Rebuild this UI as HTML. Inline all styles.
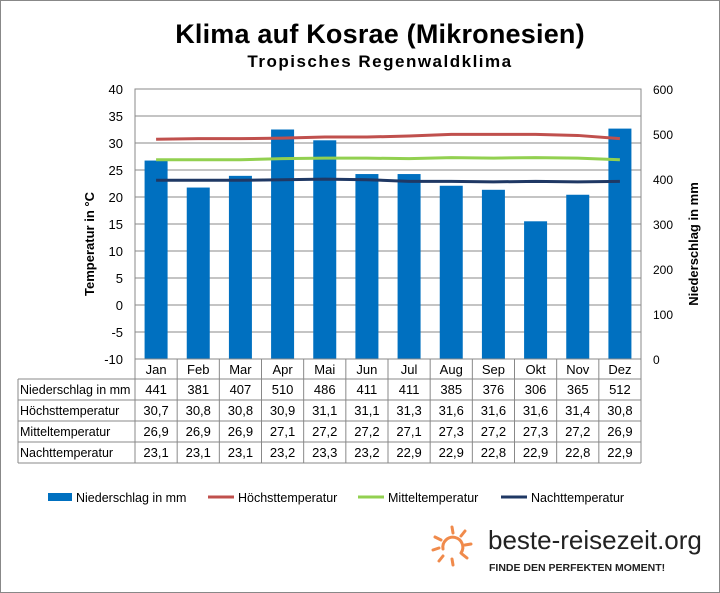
<!DOCTYPE html>
<html><head><meta charset="utf-8"><style>
body{margin:0;background:#fff;font-family:"Liberation Sans",Arial,sans-serif}
#wrap{position:relative;width:718px;height:591px;border:1px solid #888;overflow:hidden}
</style></head><body>
<div id="wrap">
<svg id="chart" width="718" height="591" xmlns="http://www.w3.org/2000/svg" font-family="Liberation Sans, Arial, sans-serif">
<text x="379" y="42" text-anchor="middle" font-size="27" font-weight="bold" letter-spacing="0.2">Klima auf Kosrae (Mikronesien)</text>
<text x="379" y="66" text-anchor="middle" font-size="17" font-weight="bold" letter-spacing="1.5">Tropisches Regenwaldklima</text>
<text transform="translate(93,243) rotate(-90)" text-anchor="middle" font-size="13" font-weight="bold">Temperatur in °C</text>
<text transform="translate(697,243) rotate(-90)" text-anchor="middle" font-size="13" font-weight="bold">Niederschlag in mm</text>
<g id="grid"></g><g id="bars"></g><g id="lines"></g><g id="axes"></g><g id="table"></g><g id="legend"></g>
<g>
<g stroke="#f08a4b" stroke-width="3" stroke-linecap="round" fill="none">
<path d="M442 548 A10 10 0 1 1 460 552"/>
<line x1="451" y1="526" x2="452" y2="532"/><line x1="464" y1="530" x2="460" y2="535"/><line x1="470" y1="543" x2="464" y2="544"/>
<line x1="466" y1="557" x2="461" y2="553"/><line x1="452" y1="564" x2="451" y2="558"/><line x1="438" y1="560" x2="442" y2="555"/>
<line x1="432" y1="549" x2="438" y2="547"/><line x1="434" y1="536" x2="440" y2="539"/>
</g>
<text x="487" y="548" font-size="26" fill="#222">beste-reisezeit.org</text>
<text x="488" y="570" font-size="10.5" font-weight="bold" fill="#222">FINDE DEN PERFEKTEN MOMENT!</text>
</g>
</svg></div>
<script>
const months=["Jan","Feb","Mar","Apr","Mai","Jun","Jul","Aug","Sep","Okt","Nov","Dez"];
const rain=[441,381,407,510,486,411,411,385,376,306,365,512];
const tmax=[30.7,30.8,30.8,30.9,31.1,31.1,31.3,31.6,31.6,31.6,31.4,30.8];
const tmean=[26.9,26.9,26.9,27.1,27.2,27.2,27.1,27.3,27.2,27.3,27.2,26.9];
const tmin=[23.1,23.1,23.1,23.2,23.3,23.2,22.9,22.9,22.8,22.9,22.8,22.9];
const leftTicks=[40,35,30,25,20,15,10,5,0,-5,-10];
const rightTicks=[600,500,400,300,200,100,0];
const NS="http://www.w3.org/2000/svg";
const L=134,R=640,T=88,B=358,cw=(R-L)/12;
const yT=v=>B-(v+10)/50*(B-T);
const yR=v=>B-v/600*(B-T);
const xC=i=>L+cw*(i+0.5);
function mk(p,tag,a){const e=document.createElementNS(NS,tag);for(const k in a)e.setAttribute(k,a[k]);document.getElementById(p).appendChild(e);return e;}
function tx(p,x,y,s,a){const e=mk(p,"text",Object.assign({x:x,y:y,"font-size":13},a||{}));e.textContent=s;return e;}
leftTicks.forEach(v=>{
 const l=mk("grid","line",{x1:L,x2:R,y1:yT(v),y2:yT(v),stroke:"#888","stroke-width":1});
 
 
 const t=tx("axes",122,yT(v)+5,String(v),{"text-anchor":"end"});
 
 
});
rightTicks.forEach(v=>{
 const t=tx("axes",652,yR(v)+5,String(v),{"font-size":12});
 
 
});
const fr=mk("axes","rect",{x:L,y:T,width:R-L,height:B-T,fill:"none",stroke:"#888"});


rain.forEach((v,i)=>{
 const b=mk("bars","rect",{x:xC(i)-11.5,y:yR(v),width:23,height:B-yR(v),fill:"#0070c0"});
 
 
});
[[tmax,"#c0504d"],[tmean,"#92d050"],[tmin,"#1f3864"]].forEach(([d,c],k)=>{
 const pts=d.map((v,i)=>xC(i)+","+yT(v)).join(" ");
 const p=mk("lines","polyline",{points:pts,fill:"none",stroke:c,"stroke-width":3});
 
 
});
const rows=[["Niederschlag in mm",rain.map(String)],["Höchsttemperatur",tmax.map(v=>String(v).replace(".",","))],["Mitteltemperatur",tmean.map(v=>String(v).replace(".",","))],["Nachttemperatur",tmin.map(v=>String(v).replace(".",","))]];
const rh=21,ty=378,tl=17;
months.forEach((m,i)=>{
 const t=tx("table",xC(i),373,m,{"text-anchor":"middle"});
 
 
 const l=mk("table","line",{x1:L+cw*(i+1),x2:L+cw*(i+1),y1:B,y2:ty+4*rh,stroke:"#888"});
 
 
});
const vl=mk("table","line",{x1:L,x2:L,y1:B,y2:ty+4*rh,stroke:"#888"});


const vl2=mk("table","line",{x1:tl,x2:tl,y1:ty,y2:ty+4*rh,stroke:"#888"});


for(let r=0;r<=4;r++){
 const l=mk("table","line",{x1:tl,x2:R,y1:ty+r*rh,y2:ty+r*rh,stroke:"#888"});
 
 
}
rows.forEach(([lab,vals],r)=>{
 const y=ty+r*rh+15;
 const t=tx("table",19,y,lab,{"font-size":12.5});
 
 
 vals.forEach((v,i)=>{
  const c=tx("table",xC(i),y,v,{"text-anchor":"middle"});
  
  
 });
});
const leg=[["Niederschlag in mm","#0070c0",1,47],["Höchsttemperatur","#c0504d",0,207],["Mitteltemperatur","#92d050",0,357],["Nachttemperatur","#1f3864",0,500]];
leg.forEach(([n,c,bar,x])=>{
 const s=bar?mk("legend","rect",{x:x,y:492,width:24,height:8,fill:c}):mk("legend","line",{x1:x,x2:x+26,y1:496,y2:496,stroke:c,"stroke-width":3});
 
 
 const t=tx("legend",x+(bar?28:30),501,n,{"font-size":12.5});
 
 
});
</script></body></html>
